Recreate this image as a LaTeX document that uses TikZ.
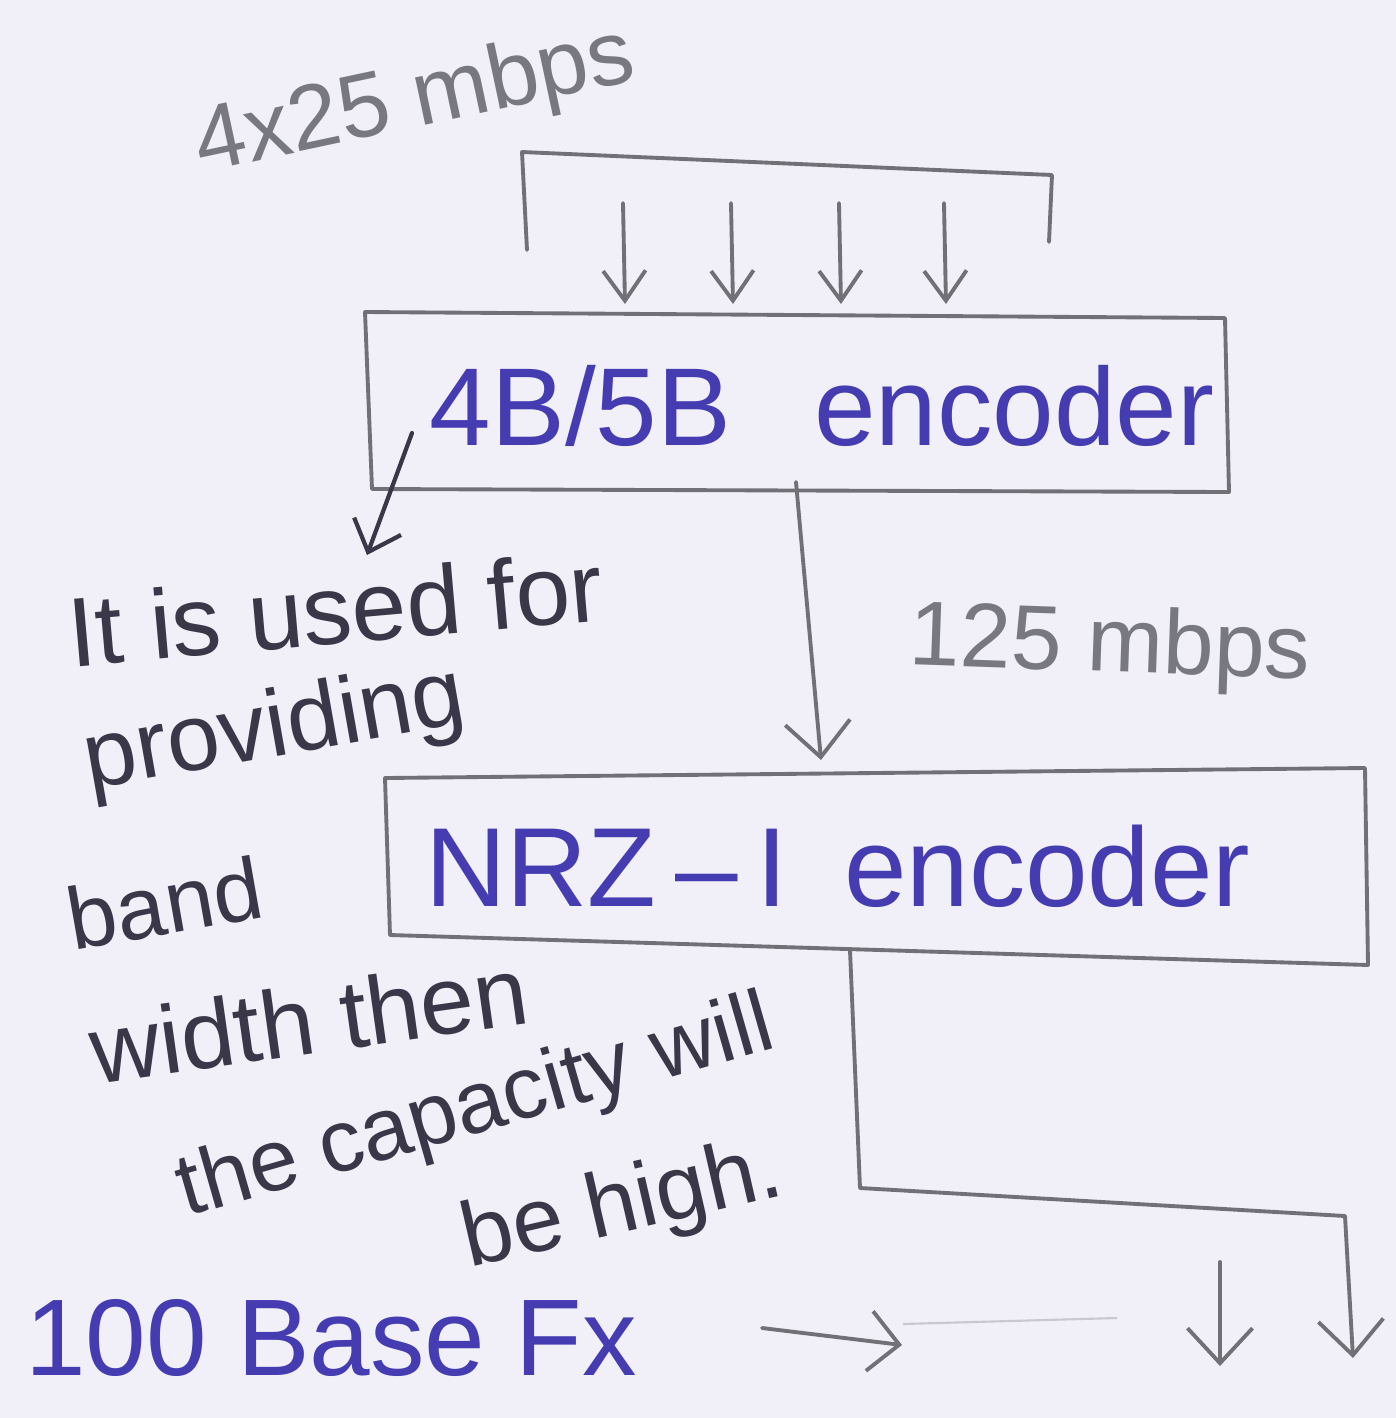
\documentclass[tikz,border=0pt]{standalone}
\usepackage{fontspec}
\setmainfont{Liberation Sans}
\usetikzlibrary{arrows.meta}
\definecolor{paper}{RGB}{241,240,248}
\definecolor{pencil}{RGB}{112,112,118}
\definecolor{faint}{RGB}{200,200,206}
\definecolor{ink}{RGB}{70,60,178}
\definecolor{lead}{RGB}{58,56,72}
\definecolor{grey}{RGB}{120,120,128}
\newcommand{\pt}[1]{\fontsize{#1}{#1}\selectfont}
\begin{document}
\begin{tikzpicture}[x=0.02cm,y=-0.02cm,
  wire/.style={draw=pencil,line width=2.2pt,line cap=round,line join=round},
  barb/.style={-{Straight Barb[length=0.7cm,width=1.3cm]}},
  smallbarb/.style={-{Straight Barb[length=0.6cm,width=0.85cm]}},
  inktext/.style={text=ink,inner sep=0pt,font=\pt{62}},
  leadtext/.style={text=lead,inner sep=0pt,anchor=west},
  greytext/.style={text=grey,inner sep=0pt,font=\pt{52}}]
\fill[paper] (0,0) rectangle (1396,1418);
\useasboundingbox (0,0) rectangle (1396,1418);

% input bracket with four 25 mbps lanes
\node[greytext,rotate=12] (lanes) at (415,103) {4x25 mbps};
\coordinate (brl) at (527,250);
\coordinate (brtl) at (522,152);
\coordinate (brtr) at (1052,175);
\coordinate (brr) at (1049,242);
\draw[wire] (brl) -- (brtl) -- (brtr) -- (brr);
\foreach \i/\x in {1/623,2/731,3/839,4/944}{
  \coordinate (in\i) at (\x,203);
  \coordinate (out\i) at (\x+2,304);
  \draw[wire,smallbarb] (in\i) -- (out\i);
}

% 4B/5B encoder box
\coordinate (anw) at (365,312);
\coordinate (ane) at (1225,318);
\coordinate (ase) at (1229,492);
\coordinate (asw) at (372,489);
\draw[wire] (anw) -- (ane) -- (ase) -- (asw) -- cycle;
\node[inktext,font=\pt{63}] (enc) at (822,406) {4B/5B\hspace{0.75em}encoder};

% NRZ-I encoder box
\coordinate (bnw) at (385,778);
\coordinate (bne) at (1365,768);
\coordinate (bse) at (1368,965);
\coordinate (bsw) at (390,935);
\draw[wire] (bnw) -- (bne) -- (bse) -- (bsw) -- cycle;
\node[inktext,font=\pt{64}] (nrz) at (838,866) {NRZ\,{--}\,I\enspace encoder};

% 125 mbps link between the encoders
\coordinate (aout) at (796,482);
\coordinate (bin) at (821,760);
\draw[wire,barb] (aout) -- (bin);
\node[greytext,rotate=-2] (rate) at (1110,648) {125 mbps};

% note on the 4B/5B encoder
\coordinate (nfrom) at (412,433);
\coordinate (nto) at (367,555);
\draw[draw=lead,line width=2.4pt,line cap=round,-{Straight Barb[length=0.55cm,width=1.0cm]}] (nfrom) -- (nto);
\node[leadtext,font=\pt{56},rotate=5] (n1) at (68,632) {It is used for};
\node[leadtext,font=\pt{54},rotate=10] (n2) at (85,765) {providing};
\node[leadtext,font=\pt{50},rotate=10] (n3) at (68,920) {band};
\node[leadtext,font=\pt{55},rotate=8] (n4) at (90,1050) {width then};
\node[leadtext,font=\pt{50},rotate=16] (n5) at (180,1195) {the capacity will};
\node[leadtext,font=\pt{52},rotate=13] (n6) at (464,1245) {be high.};

% NRZ-I output to the fibre
\coordinate (bout) at (850,950);
\coordinate (bend1) at (860,1188);
\coordinate (bend2) at (1345,1216);
\coordinate (fib1) at (1353,1358);
\draw[wire,barb] (bout) -- (bend1) -- (bend2) -- (fib1);
\coordinate (fib0top) at (1220,1262);
\coordinate (fib0) at (1220,1366);
\draw[wire,barb] (fib0top) -- (fib0);

% 100 Base Fx label
\node[inktext,anchor=west] (fx) at (25,1338) {100 Base Fx};
\coordinate (fxa) at (762,1328);
\coordinate (fxb) at (902,1345);
\draw[wire,-{Straight Barb[length=0.6cm,width=1.2cm]}] (fxa) -- (fxb);
\coordinate (fxc) at (903,1324);
\coordinate (fxd) at (1117,1318);
\draw[draw=faint,line width=1.2pt] (fxc) -- (fxd);
\end{tikzpicture}
\end{document}
